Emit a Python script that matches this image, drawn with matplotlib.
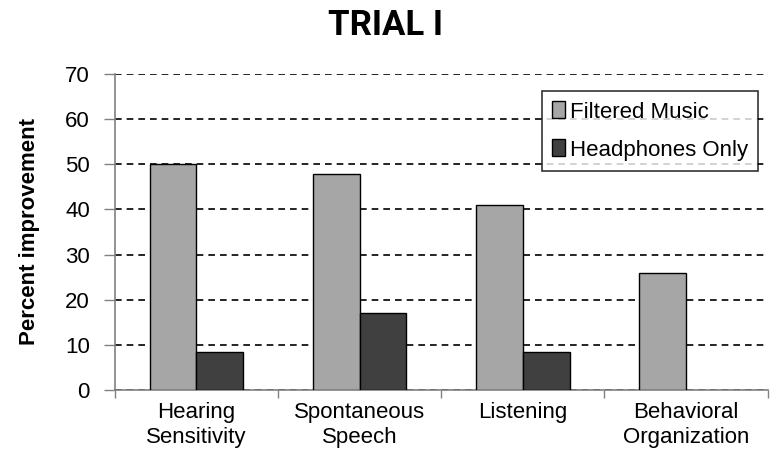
import numpy as np
import matplotlib
matplotlib.use('Agg')
import matplotlib.pyplot as plt

# values
categories = ['Hearing\nSensitivity', 'Spontaneous\nSpeech', 'Listening', 'Behavioral\nOrganization']
filtered_music = [50, 47.8, 41, 26]
headphones_only = [8.3, 17, 8.3, 0]
y_ticks = [0, 10, 20, 30, 40, 50, 60, 70]

narrow = ['Liberation Sans Narrow', 'Liberation Sans', 'DejaVu Sans']

fig = plt.figure(figsize=(7.81, 4.63), dpi=100)
ax = fig.add_axes([0.147, 0.158, 0.836, 0.682])

x = np.arange(len(categories))
w = 0.286
# a zero value has no visible bar in the original
hp = np.array(headphones_only, dtype=float)
hp[hp == 0] = np.nan
ax.bar(x - w / 2, filtered_music, w, color='#a6a6a6', edgecolor='black', linewidth=1, label='Filtered Music', zorder=3)
ax.bar(x + w / 2, hp, w, color='#404040', edgecolor='black', linewidth=1, label='Headphones Only', zorder=3)

ax.set_xlim(-0.5, len(categories) - 0.5)
ax.set_ylim(0, 70)
ax.set_yticks(y_ticks)
ax.set_yticklabels([str(v) for v in y_ticks], fontsize=16, family=narrow)
ax.yaxis.grid(True, color='black', linestyle=(0, (4, 3)), linewidth=1.2, zorder=0)

ax.set_xticks(x)
ax.set_xticklabels(categories, fontsize=16, family=narrow, linespacing=1.2)
ax.set_xticks(np.arange(-0.5, len(categories), 1), minor=True)
ax.tick_params(axis='x', which='major', length=0, pad=9)
ax.tick_params(axis='x', which='minor', length=6, color='#808080', width=1)
ax.tick_params(axis='y', length=8, color='#808080', width=1, pad=10)

for s in ['top', 'right']:
    ax.spines[s].set_visible(False)
for s in ['left', 'bottom']:
    ax.spines[s].set_color('#808080')
    ax.spines[s].set_linewidth(1.2)

ax.set_ylabel('Percent improvement', fontsize=16, fontweight='bold', family=['Liberation Sans', 'DejaVu Sans'], labelpad=18)

leg = ax.legend(loc='upper right', bbox_to_anchor=(0.985, 0.945), prop={'family': narrow, 'size': 16},
                frameon=True, fancybox=False, handlelength=0.6, handleheight=0.8, handletextpad=0.2,
                borderpad=0.45, labelspacing=0.75, borderaxespad=0)
leg.get_frame().set_edgecolor('black')
leg.get_frame().set_linewidth(1.2)

fig.text(0.493, 0.945, 'TRIAL I', ha='center', va='center', fontsize=25, fontweight='bold', family=['Roboto', 'DejaVu Sans'])

fig.savefig('out.png', dpi=100)
